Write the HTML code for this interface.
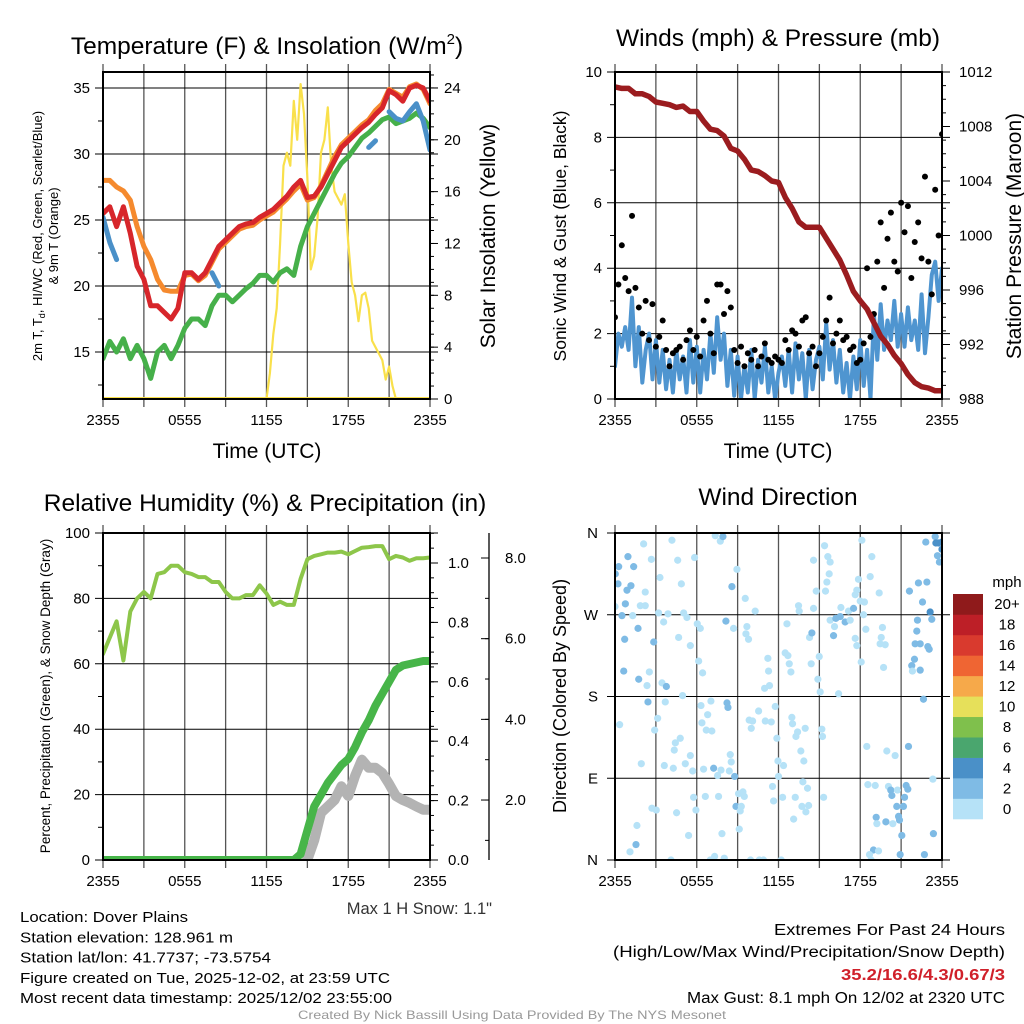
<!DOCTYPE html>
<html><head><meta charset="utf-8"><style>
html,body{margin:0;padding:0;background:#fff;}
svg{display:block;font-family:"Liberation Sans",Arial,sans-serif;}
</style></head><body>
<svg id="fig" width="1024" height="1024" viewBox="0 0 1024 1024"></svg>
<script>
// ---------- DATA ----------
const temp2m=[25.5,26,24.5,26,24,21.5,20.5,18.5,18.5,18,17.5,18.3,21,21,20.5,21,22,23,23.5,24,24.5,24.7,24.8,25.2,25.5,25.8,26.3,26.8,27.5,28,26.7,26.8,27.5,28.5,29.5,30.5,31,31.5,32,32.4,33,33.5,34.8,34.5,34,35,35.2,35,34];
const temp9m=[28,28,27.5,27.2,26.5,24.5,23,22,20.5,19.7,19.6,19.6,20.8,20.9,20.4,20.8,21.8,22.8,23.3,23.8,24.3,24.5,24.6,25,25.3,25.6,26.1,26.6,27.2,27.7,26.5,26.7,27.6,28.7,29.8,30.7,31.2,31.7,32.2,32.6,33.3,33.8,34.9,34.6,34.3,35.1,35.3,34.9,33.8];
const dewpt=[14.5,15.8,15,16,14.5,15.5,14.5,13,15,15.5,14.5,15.5,16.8,17.5,17.5,17,18.5,19.3,19.3,18.8,19.3,19.8,20.2,20.8,20.8,20.3,21,21.3,20.8,23,24.5,25.5,26.5,27.5,28.5,29.3,29.8,30.5,31.2,31.6,32.1,32.6,32.8,32.3,32.5,32.7,33.1,32.7,32];
const hiwc=[25.2,23.3,22,null,null,null,null,null,null,null,null,null,null,null,null,null,21,20,null,null,null,null,null,null,null,null,null,null,null,null,null,null,null,null,null,null,null,null,null,30.5,31,null,33.2,32.7,32.5,33.2,33.8,32.5,30.3];
const solar=[0,0,0,0,0,0,0,0,0,0,0,0,0,0,0,0,0,0,0,0,0,0,0,0,0,0,0,0,0,0,0,0,0,0,0,0,0,0,0,0,0,0,0,0,0,0,0,0,0,2,5,7,12,18,19,18,23,20,24.3,22,17,10,11,14,19,20,22.5,18,16,15.5,15,15.8,12,9,8,6,8,8.2,7,4.5,4,3.5,3,1.5,2.5,1,0,0,0,0,0,0,0,0,0,0,0];
const pressure=[1010.9,1010.8,1010.8,1010.4,1010.4,1010.2,1009.8,1009.7,1009.6,1009.4,1009.5,1009.1,1009.1,1008.4,1007.8,1007.7,1007.3,1006.4,1006.2,1005.6,1004.8,1004.7,1004.4,1004.0,1003.9,1002.8,1002.0,1001.0,1000.6,1000.6,1000.6,999.8,999.0,998.2,997.1,995.9,995.2,994.6,993.6,992.6,992.0,991.2,990.6,989.8,989.2,988.9,988.8,988.6,988.6];
const windSpd=[1.0,2.0,1.6,2.2,1.5,3.1,1.0,2.2,0.5,1.5,2.0,0.6,1.8,0.5,1.5,0.3,1.2,0.2,1.5,0.6,1.3,0.2,1.8,0.5,1.6,0.2,1.5,0.6,2.0,0.8,2.5,1.2,2.0,0.4,1.5,0.1,1.3,0.0,1.0,0.2,1.5,0.0,1.2,0.5,1.6,0.2,1.0,0.0,0.8,1.3,0.4,1.5,0.2,1.7,0.6,1.4,0.0,1.5,0.3,1.2,1.6,0.6,2.3,0.9,1.8,0.5,1.5,0.2,1.1,0.0,1.3,0.3,1.8,0.4,1.5,0.0,2.6,1.2,2.9,1.5,2.4,1.8,3.0,1.6,2.6,1.6,2.8,1.8,2.4,1.5,3.2,1.4,2.5,3.8,4.2,3.0,4.0];
const gust=[2.5,3.5,4.7,3.7,3.3,5.6,3.4,2.8,2.0,3.0,1.8,2.9,1.6,1.9,2.4,1.5,1.0,1.4,1.5,1.6,1.2,1.8,2.1,1.5,1.9,1.3,2.4,3.0,2.0,1.4,3.5,3.5,2.6,3.3,2.8,1.5,1.1,1.6,1.0,1.4,1.2,1.5,1.0,1.3,1.7,1.2,1.1,1.3,1.2,1.1,1.8,1.5,2.1,2.0,1.6,2.4,2.5,1.4,1.6,1.0,1.4,1.9,2.4,3.1,1.7,2.0,2.4,1.8,1.9,1.5,1.6,1.1,1.2,1.7,4.0,1.9,2.6,4.2,5.4,3.4,4.9,5.7,4.2,3.9,6.0,5.1,5.9,3.7,4.8,5.4,4.3,6.8,4.2,3.2,6.4,5.0,8.1];
const rh=[63,68,73,61,76,80,82,80,87.5,88,90,90,88,87.5,86.5,86.5,85,85,82,80,80,81,81,84,81.5,78,79,78,78,86,92,93,93.5,94,94,94.3,93.5,94.5,95.5,95.7,96,96,92,93,92.5,91.5,92.3,92.3,92.5];
const precip=[0,0,0,0,0,0,0,0,0,0,0,0,0,0,0,0,0,0,0,0,0,0,0,0,0,0,0,0,0,0.02,0.1,0.18,0.22,0.26,0.29,0.32,0.34,0.38,0.43,0.47,0.52,0.56,0.6,0.64,0.655,0.66,0.665,0.67,0.67];
const snowDepth=[null,null,null,null,null,null,null,null,null,null,null,null,null,null,null,null,null,null,null,null,null,null,null,null,null,null,null,null,null,0.3,0.52,1.0,1.68,1.84,2.0,2.34,2.1,2.6,3.0,2.8,2.8,2.67,2.4,2.1,2.0,1.93,1.84,1.76,1.76];
const dirHour=[.27,.95,1.37,.02,.22,.88,1.17,.76,0,.51,1.30,1.86,2.22,2.10,2.67,2.22,1.69,.71,2.84,.64,1.74,2.52,2.35,3.45,3.77,2.42,3.69,4.96,.34,3.13,2.91,4.43,4.79,4.35,1.93,3.62,4.28,5.16,5.53,5.70,2.71,3.03,4.52,5.77,5.94,1.61,1.54,1.10,5.40,4.11,4.18,4.60,4.87,3.30,3.20,3.89,3.57,5.04,5.28,4.67,5.53,5.84,6.04,6.26,6.14,6.43,6.31,7.04,6.80,6.38,6.70,7.11,6.50,7.24,7.78,7.53,6.63,7.60,7.85,6.99,7.31,8.02,7.36,7.73,7.92,8.95,8.58,8.14,8.70,8.22,8.29,8.46,8.53,8.39,8.78,9.07,9.39,9.49,8.88,9.27,9.19,9.12,9.56,10.29,9.68,9.61,9.80,10.54,9.85,10.10,10.00,9.95,10.59,10.90,11.22,11.27,11.34,10.98,11.03,11.47,11.76,11.88,11.96,12.37,12.00,11.56,12.30,11.64,12.20,12.62,12.49,12.69,12.79,12.91,12.98,13.03,13.40,13.28,13.96,13.64,13.86,13.79,14.13,13.23,13.72,14.21,14.01,13.11,13.47,13.52,14.57,14.77,14.57,14.28,14.45,14.99,14.40,14.89,15.06,15.18,15.23,15.31,15.38,15.62,15.79,15.72,15.55,15.45,15.79,16.11,16.04,16.21,16.53,16.89,17.26,16.58,17.14,17.51,17.63,17.75,16.41,17.87,17.75,17.63,18.00,18.31,18.24,18.41,18.12,18.85,18.73,19.39,18.07,19.63,19.54,19.46,19.83,19.71,18.48,18.56,19.10,19.95,20.56,20.07,20.24,20.32,20.73,19.17,19.22,19.88,20.39,18.97,18.68,18.80,19.34,20.68,21.25,21.17,20.81,20.88,21.05,20.93,21.37,21.49,21.54,21.61,22.27,22.89,22.57,22.20,22.15,22.03,22.40,22.96,23.06,21.98,21.78,21.83,22.40,22.64,22.81,23.50,23.55,23.74,23.99,24.0,23.67,23.81,23.13,23.25,23.33,23.37,22.71];
const dirDeg=[323,334,323,315,304,297,302,282,279,269,269,280,280,348,331,295,255,243,240,208,199,207,192,195,191,174,174,181,149,156,143,129,134,121,106,104,101,106,115,98,57,55,52,69,55,38,17,9,27,0,352,330,304,311,272,271,262,272,267,245,236,333,260,255,219,206,170,175,160,151,143,142,100,101,99,93,70,70,29,0,4,2,357,351,356,320,301,263,255,173,168,116,108,98,92,73,75,70,59,59,54,34,288,274,257,249,243,164,154,153,145,0,0,0,222,208,192,189,153,152,169,134,109,104,92,81,69,65,0,260,228,225,216,207,157,150,141,136,145,120,109,86,79,69,59,60,53,45,280,274,330,296,277,245,250,224,216,199,185,144,136,69,346,334,328,315,306,296,264,257,247,266,268,262,264,278,274,277,244,236,183,309,297,292,285,284,270,254,352,334,312,294,218,256,245,238,237,212,125,83,82,120,115,81,77,71,77,47,40,42,40,11,6,0,10,59,69,59,48,44,27,6,82,78,125,296,305,306,284,264,252,238,238,235,232,221,214,208,209,177,350,356,349,349,350,342,335,328,273,265,89,29,6];
const dirSpeed=[3,3,3,3,3,3,3,3,1,3,1,1,1,1,1,1,3,3,3,3,3,1,1,1,3,3,1,1,1,1,1,1,1,1,1,1,1,1,1,1,1,1,1,1,1,1,3,1,1,1,1,1,1,1,1,1,1,1,1,1,1,1,1,1,1,1,1,1,1,1,1,1,1,3,1,1,1,1,1,1,1,1,1,1,3,1,3,3,1,3,3,1,1,1,3,1,1,1,3,1,1,1,1,1,1,1,1,1,1,1,1,1,1,1,1,1,1,1,1,1,1,1,1,1,1,1,1,1,1,1,1,1,1,1,1,1,1,1,1,1,1,1,1,1,1,1,1,1,1,1,1,1,1,1,3,1,1,1,1,1,1,1,1,1,1,1,1,1,1,1,3,3,3,3,1,1,1,3,1,1,1,1,1,1,1,1,1,1,1,1,1,1,1,1,1,1,1,1,1,1,1,1,1,1,3,3,1,3,1,3,1,3,1,1,1,3,3,3,3,3,3,3,3,3,3,3,3,3,3,3,3,3,3,3,3,3,3,1,3,3,3,3,4.5,4.5,4.5,4.5,3,3,4.5,3,1,3,3];
const cbLabels=["0","2","4","6","8","10","12","14","16","18","20+"];
const cbColors=["#b6e2f7","#7fbbe5","#4a90c8","#4aa66e","#7fc04c","#e6e05a","#f6a94a","#ef6533","#d93a2e","#bd1f27","#8f1a1b"];
const xTickLabels=["2355","0555","1155","1755","2355"];

// ---------- RENDER ----------
const NS="http://www.w3.org/2000/svg";
const svg=document.getElementById('fig');
function el(tag,attrs,parent){const e=document.createElementNS(NS,tag);for(const k in attrs)e.setAttribute(k,attrs[k]);(parent||svg).appendChild(e);return e;}
function txt(s,attrs,parent){const e=el('text',attrs,parent);e.textContent=s;return e;}
function lin(d0,d1,p0,p1){return v=>p0+(v-d0)/(d1-d0)*(p1-p0);}

function panel(id,x0,x1,y0,y1){
  const g=el('g',{});
  
  
  const cp=el('clipPath',{id:'clip-'+id},g);el('rect',{x:x0,y:y0,width:x1-x0,height:y1-y0},cp);
  const xs=lin(0,24,x0,x1);
  for(let h=0;h<=24;h+=3){const x=xs(h);
    const l=el('line',{x1:x,x2:x,y1:y0-8,y2:y1+8,stroke:'#555','stroke-width':1.3},g);
    }
  xTickLabels.forEach((s,i)=>{const t=txt(s,{x:xs(i*6),y:y1+26,'font-size':15,'text-anchor':'middle',fill:'#000'},g);
    });
  return {g,xs,clip:'url(#clip-'+id+')',x0,x1,y0,y1};
}
function hgrid(P,ys,vals,ext){vals.forEach(v=>{const y=ys(v);
  const l=el('line',{x1:P.x0-(ext||8),x2:P.x1+(ext===undefined?0:ext),y1:y,y2:y,stroke:'#000','stroke-width':1},P.g);
  });}
function ticks(P,ys,x,dir,from,to,step,len){for(let v=from;v<=to+1e-9;v+=step){const y=ys(v);
  el('line',{x1:x,x2:x+dir*len,y1:y,y2:y,stroke:'#000','stroke-width':1},P.g);}}
function labels(P,ys,vals,fmt,x,anchor,size){vals.forEach(v=>{const t=txt(fmt(v),{x:x,y:ys(v)+5,'font-size':size||15,'text-anchor':anchor},P.g);
  });}
function path(P,arr,dx,ys,attrs,name){let d='';let pen=false;
  arr.forEach((v,i)=>{if(v===null||v===undefined){pen=false;return;}const x=P.xs(i*dx),y=ys(v);
    d+=(pen?'L':'M')+x.toFixed(1)+' '+y.toFixed(1)+' ';
    const nx=arr[i+1];if(!pen&&(nx===null||nx===undefined))d+='L'+x.toFixed(1)+' '+(y+0.1).toFixed(1)+' ';pen=true;});
  const p=el('path',Object.assign({d:d,fill:'none','stroke-linejoin':'round','stroke-linecap':'round','clip-path':P.clip},attrs),P.g);
  return p;}
function frame(P){const r=el('rect',{x:P.x0,y:P.y0,width:P.x1-P.x0,height:P.y1-P.y0,fill:'none',stroke:'#000','stroke-width':2},P.g);
  }
function rtext(s,x,y,size,name,anchor){const t=txt(s,{x:0,y:0,'font-size':size,'text-anchor':anchor||'middle',transform:`translate(${x},${y}) rotate(-90)`});
  return t;}
function title(s,x,y,size,name){const t=txt(s,{x:x,y:y,'font-size':size,'text-anchor':'middle'});return t;}

// Panel 1
{const P=panel('temperature-panel',103,430,72,399);
 const yl=lin(11.44,36.21,399,72), yr=lin(0,25.23,399,72);
 hgrid(P,yl,[15,20,25,30,35],8);
 ticks(P,yl,P.x0,-1,12.5,32.5,5,5);
 ticks(P,yr,P.x1,1,0,25,1,4);ticks(P,yr,P.x1,1,0,24,4,8);
 labels(P,yl,[15,20,25,30,35],v=>v,90,'end');
 labels(P,yr,[0,4,8,12,16,20,24],v=>v,444,'start');
 path(P,solar,0.25,yr,{stroke:'#f9e04b','stroke-width':2.2},'solar-insolation-line');
 path(P,dewpt,0.5,yl,{stroke:'#46b04a','stroke-width':5},'dewpoint-line');
 path(P,temp9m,0.5,yl,{stroke:'#f58a2e','stroke-width':5},'temp-9m-line');
 path(P,temp2m,0.5,yl,{stroke:'#d7262b','stroke-width':5},'temp-2m-line');
 path(P,hiwc,0.5,yl,{stroke:'#4a90c8','stroke-width':5},'heat-index-windchill-line');
 el('line',{x1:P.x0,x2:P.x1,y1:398,y2:398,stroke:'#f9e04b','stroke-width':2},P.g);
 frame(P);
 const t=txt('',{x:267,y:54,'font-size':24.5,'text-anchor':'middle'});
 t.innerHTML='Temperature (F) &amp; Insolation (W/m<tspan font-size="15" dy="-10">2</tspan><tspan dy="10">)</tspan>';
 title('Time (UTC)',267,458,21,'x-axis-title');
 const a=txt('',{x:0,y:0,'font-size':13,'text-anchor':'middle',transform:'translate(42,236) rotate(-90)'});
 a.innerHTML='2m T, T<tspan font-size="9" dy="3">d</tspan><tspan dy="-3">, HI/WC (Red, Green, Scarlet/Blue)</tspan>';
 rtext('& 9m T (Orange)',58,236,13,'temperature-y-axis-title-2');
 rtext('Solar Insolation (Yellow)',495,236,21,'solar-y-axis-title');
}
// Panel 2
{const P=panel('wind-pressure-panel',615,942,72,399);
 const yl=lin(0,10,399,72), yr=lin(988,1012,399,72);
 hgrid(P,yl,[0,2,4,6,8,10],8);
 ticks(P,yl,P.x0,-1,1,9,2,5);
 ticks(P,yr,P.x1,1,988,1012,1,4);ticks(P,yr,P.x1,1,988,1012,4,8);
 labels(P,yl,[0,2,4,6,8,10],v=>v,602,'end');
 labels(P,yr,[988,992,996,1000,1004,1008,1012],v=>v,959,'start');
 path(P,windSpd,0.25,yl,{stroke:'#4f95d0','stroke-width':4},'sonic-wind-line');
 gust.forEach((v,i)=>{const c=el('circle',{cx:P.xs(i*0.25),cy:yl(v),r:3,fill:'#000','clip-path':P.clip},P.g);
   });
 path(P,pressure,0.5,yr,{stroke:'#9b1c1f','stroke-width':5.5},'pressure-line');
 frame(P);
 title('Winds (mph) & Pressure (mb)',778,46,24.5,'wind-title');
 title('Time (UTC)',778,458,21,'x-axis-title-2');
 rtext('Sonic Wind & Gust (Blue, Black)',566,236,17.5,'wind-y-axis-title');
 rtext('Station Pressure (Maroon)',1021,236,21,'pressure-y-axis-title');
}
// Panel 3
{const P=panel('humidity-panel',103,430,533,860);
 const yl=lin(0,100,860,533), yp=lin(0,1.101,860,533), ysn=lin(0,8.62,880.7,533);
 hgrid(P,yl,[0,20,40,60,80,100],8);
 ticks(P,yl,P.x0,-1,10,90,20,5);
 ticks(P,yp,P.x1,1,0,1.1,0.05,4);ticks(P,yp,P.x1,1,0,1.0,0.2,8);
 labels(P,yl,[0,20,40,60,80,100],v=>v,90,'end');
 labels(P,yp,[0,0.2,0.4,0.6,0.8,1.0],v=>v.toFixed(1),448,'start');
 el('line',{x1:489,x2:489,y1:533,y2:860,stroke:'#000','stroke-width':1.3},P.g);
 ticks(P,ysn,489,-1,1,8,1,4);ticks(P,ysn,489,-1,2,8,2,8);
 labels(P,ysn,[2,4,6,8],v=>v.toFixed(1),505,'start');
 path(P,snowDepth,0.5,ysn,{stroke:'#b3b3b3','stroke-width':10},'snow-depth-line');
 path(P,precip,0.5,yp,{stroke:'#47b549','stroke-width':8},'precipitation-line');
 path(P,rh,0.5,yl,{stroke:'#8dc64a','stroke-width':4},'relative-humidity-line');
 frame(P);
 title('Relative Humidity (%) & Precipitation (in)',265,511,24.5,'humidity-title');
 rtext('Percent, Precipitation (Green), & Snow Depth (Gray)',50,696,13.5,'humidity-y-axis-title');
 const t=txt('Max 1 H Snow: 1.1"',{x:492,y:914,'font-size':16.5,'text-anchor':'end',fill:'#333'});
}
// Panel 4
{const P=panel('wind-direction-panel',615,942,533,860);
 const yd=lin(0,360,860,533);
 hgrid(P,yd,[0,90,180,270,360],8);
 labels(P,yd,[0,90,180,270,360],v=>({0:'N',90:'E',180:'S',270:'W',360:'N'})[v],598,'end');
 function spdColor(s){const idx=Math.max(0,Math.min(10,Math.floor(s/2)));return cbColors[idx];}
 dirHour.forEach((h,i)=>{const c=el('circle',{cx:P.xs(h),cy:yd(dirDeg[i]),r:3.6,fill:spdColor(dirSpeed[i]),'clip-path':P.clip},P.g);
   });
 frame(P);
 title('Wind Direction',778,505,24.5,'wind-direction-title');
 rtext('Direction (Colored By Speed)',566,696,18,'direction-y-axis-title');
 const cb=el('g',{});
 const bh=(819-594)/cbColors.length;
 cbColors.forEach((c,i)=>{const y=819-(i+1)*bh;el('rect',{x:953,y:y,width:30,height:bh+0.3,fill:c},cb);
   const t=txt(cbLabels[i],{x:1007,y:y+bh/2+5,'font-size':15,'text-anchor':'middle'},cb);});
 txt('mph',{x:1007,y:587,'font-size':15,'text-anchor':'middle'},cb);
}
// Footer text
const left=["Location: Dover Plains","Station elevation: 128.961 m","Station lat/lon: 41.7737; -73.5754","Figure created on Tue, 2025-12-02, at 23:59 UTC","Most recent data timestamp: 2025/12/02 23:55:00"];
const lw=[168,213,251,370,372];
left.forEach((s,i)=>{const t=txt(s,{x:20,y:922+i*20.3,'font-size':15,textLength:lw[i],lengthAdjust:'spacingAndGlyphs'});});
{const a=[["Extremes For Past 24 Hours",935,'#000','normal',231],["(High/Low/Max Wind/Precipitation/Snow Depth)",957,'#000','normal',392],["35.2/16.6/4.3/0.67/3",980,'#d0202a','bold',164],["Max Gust: 8.1 mph On 12/02 at 2320 UTC",1003,'#000','normal',318]];
 a.forEach(r=>{const t=txt(r[0],{x:1005,y:r[1],'font-size':15.5,'text-anchor':'end',fill:r[2],'font-weight':r[3],textLength:r[4],lengthAdjust:'spacingAndGlyphs'});});}
{const t=txt('Created By Nick Bassill Using Data Provided By The NYS Mesonet',{x:512,y:1019,'font-size':12,'text-anchor':'middle',fill:'#999',textLength:428,lengthAdjust:'spacingAndGlyphs'});}
</script>
</body></html>
